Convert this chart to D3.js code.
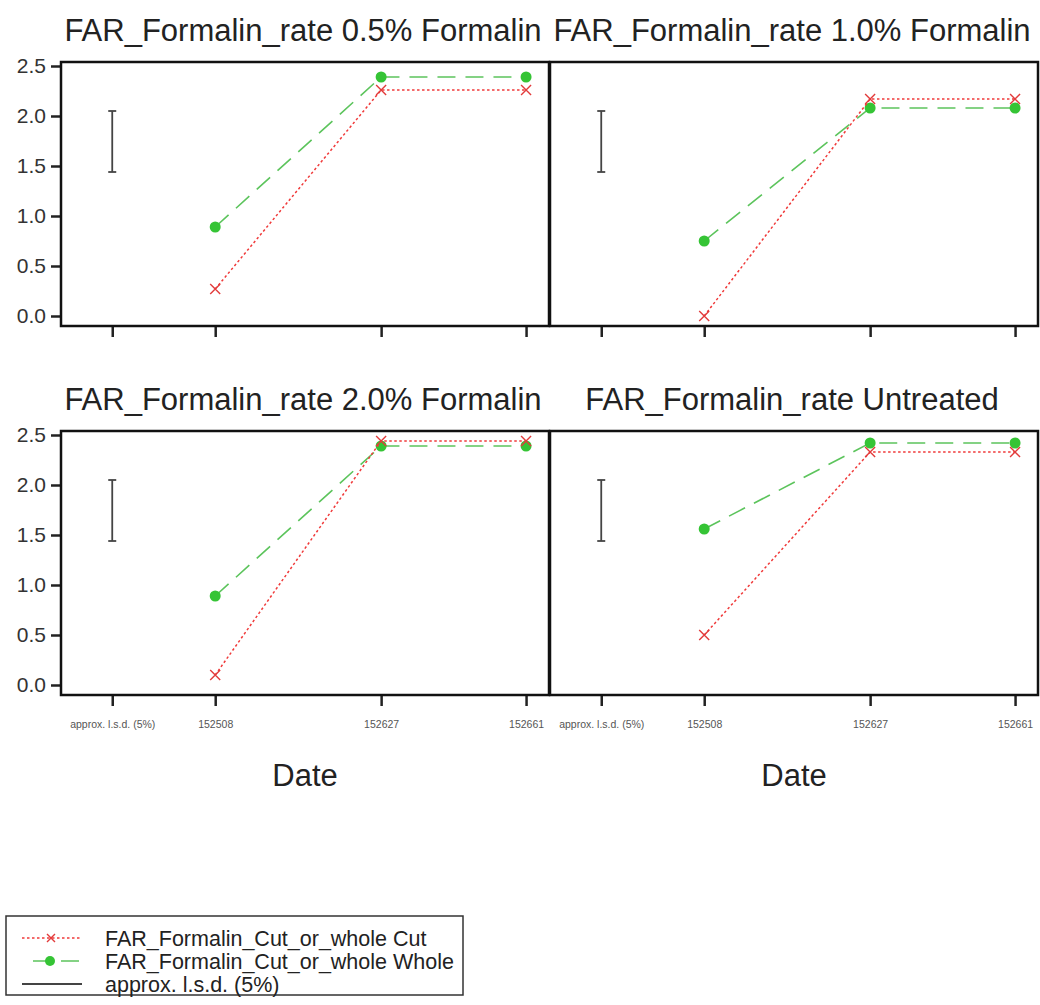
<!DOCTYPE html>
<html>
<head>
<meta charset="utf-8">
<script src="https://cdn.jsdelivr.net/npm/d3@7/dist/d3.min.js"></script>
<style>
  body { margin: 0; background: #fff; }
  svg { display: block; font-family: "Liberation Sans", Arial, sans-serif; }
</style>
</head>
<body>
<svg id="chart" width="1040" height="1005"></svg>
<script>
// panel titles, in reading order
var panelTitles = [
  "FAR_Formalin_rate 0.5% Formalin",
  "FAR_Formalin_rate 1.0% Formalin",
  "FAR_Formalin_rate 2.0% Formalin",
  "FAR_Formalin_rate Untreated"
];
// x categories (first one is the lsd bar slot) and their axis values
var xLabels = ["approx. l.s.d. (5%)", "152508", "152627", "152661"];
var xValues = [1.05, 3.16, 6.56, 9.53];
// series values per panel, for the three dates
var cutValues = [
  [0.27, 2.26, 2.26],
  [0.00, 2.17, 2.17],
  [0.10, 2.44, 2.44],
  [0.50, 2.33, 2.33]
];
var wholeValues = [
  [0.89, 2.39, 2.39],
  [0.75, 2.08, 2.08],
  [0.89, 2.39, 2.39],
  [1.56, 2.42, 2.42]
];
var lsdCentre = 1.745, lsdValue = 0.61;
var yTicks = [0, 0.5, 1.0, 1.5, 2.0, 2.5];
var legendLabels = [
  "FAR_Formalin_Cut_or_whole Cut",
  "FAR_Formalin_Cut_or_whole Whole",
  "approx. l.s.d. (5%)"
];

var svg = d3.select("#chart");
var colLeft = [61, 550], panelW = 488;
var rowTop = [62, 431], panelH = 264;
var red = "#f03a3a", green = "#35c435";

var x = d3.scaleLinear().domain([0, 10]).range([0, panelW]);
var y = d3.scaleLinear().domain([-0.1, 2.54]).range([panelH, 0]);

var line = d3.line()
  .x(function(d, i) { return x(xValues[i + 1]); })
  .y(function(d) { return y(d); });

panelTitles.forEach(function(title, p) {
  var col = p % 2, row = Math.floor(p / 2);
  var g = svg.append("g")
    .attr("transform", "translate(" + colLeft[col] + "," + rowTop[row] + ")");

  g.append("text")
    .attr("x", panelW / 2 - 2)
    .attr("y", -21)
    .attr("text-anchor", "middle")
    .attr("font-size", 31)
    .attr("fill", "#222")
    .text(title);

  // y axis only on left column
  if (col === 0) {
    var ya = g.append("g")
      .call(d3.axisLeft(y).tickValues(yTicks).tickSize(10).tickPadding(5)
        .tickFormat(d3.format(".1f")));
    ya.select(".domain").remove();
    ya.selectAll("line").attr("stroke", "#222").attr("stroke-width", 2.5);
    ya.selectAll("text").attr("font-size", 21).attr("fill", "#333")
      .attr("font-family", "Liberation Sans, Arial, sans-serif");
  }

  var xa = g.append("g")
    .attr("transform", "translate(0," + panelH + ")")
    .call(d3.axisBottom(x).tickValues(xValues).tickSize(11).tickPadding(15)
      .tickFormat(function(d, i) { return row === 1 ? xLabels[i] : ""; }));
  xa.select(".domain").remove();
  xa.selectAll("line").attr("stroke", "#222").attr("stroke-width", 2.5);
  xa.selectAll("text").attr("font-size", 10.5).attr("fill", "#555")
    .attr("font-family", "Liberation Sans, Arial, sans-serif");

  if (row === 1) {
    g.append("text")
      .attr("x", panelW / 2)
      .attr("y", panelH + 91)
      .attr("text-anchor", "middle")
      .attr("font-size", 31)
      .attr("fill", "#222")
      .text("Date");
  }

  // lsd bar
  var lx = x(xValues[0]);
  var lsd = g.append("g").attr("stroke", "#444").attr("stroke-width", 1.8);
  lsd.append("line").attr("x1", lx).attr("x2", lx)
    .attr("y1", y(lsdCentre - lsdValue / 2)).attr("y2", y(lsdCentre + lsdValue / 2));
  [lsdCentre - lsdValue / 2, lsdCentre + lsdValue / 2].forEach(function(v) {
    lsd.append("line").attr("x1", lx - 4).attr("x2", lx + 4)
      .attr("y1", y(v)).attr("y2", y(v));
  });

  // whole series
  g.append("path")
    .attr("d", line(wholeValues[p]))
    .attr("fill", "none")
    .attr("stroke", "#5cc45c")
    .attr("stroke-width", 1.6)
    .attr("stroke-dasharray", "18,10");
  g.selectAll("circle.whole")
    .data(wholeValues[p])
    .enter().append("circle")
    .attr("class", "whole")
    .attr("cx", function(d, i) { return x(xValues[i + 1]); })
    .attr("cy", function(d) { return y(d); })
    .attr("r", 5.5)
    .attr("fill", green);

  // cut series
  g.append("path")
    .attr("d", line(cutValues[p]))
    .attr("fill", "none")
    .attr("stroke", red)
    .attr("stroke-width", 1.5)
    .attr("stroke-dasharray", "2.5,2.5");
  g.selectAll("path.cut")
    .data(cutValues[p])
    .enter().append("path")
    .attr("class", "cut")
    .attr("transform", function(d, i) {
      return "translate(" + x(xValues[i + 1]) + "," + y(d) + ")";
    })
    .attr("d", "M-5,-5L5,5M-5,5L5,-5")
    .attr("stroke", "#e23b3b")
    .attr("stroke-width", 1.4);

  g.append("rect")
    .attr("width", panelW).attr("height", panelH)
    .attr("fill", "none").attr("stroke", "#111").attr("stroke-width", 2.5);
});

// legend
var lg = svg.append("g").attr("transform", "translate(6,916)");
lg.append("rect").attr("width", 457).attr("height", 79)
  .attr("fill", "#fff").attr("stroke", "#333").attr("stroke-width", 1.5);
legendLabels.forEach(function(label, i) {
  var ly = 22 + i * 23;
  var row = lg.append("g");
  if (i === 0) {
    row.append("line").attr("x1", 16).attr("x2", 76).attr("y1", ly).attr("y2", ly)
      .attr("stroke", red).attr("stroke-width", 1.5).attr("stroke-dasharray", "2.5,2.5");
    row.append("path").attr("d", "M-4,-4L4,4M-4,4L4,-4")
      .attr("transform", "translate(45," + ly + ")")
      .attr("stroke", "#e23b3b").attr("stroke-width", 1.4);
  } else if (i === 1) {
    row.append("line").attr("x1", 27).attr("x2", 76).attr("y1", ly).attr("y2", ly)
      .attr("stroke", "#5cc45c").attr("stroke-width", 1.6).attr("stroke-dasharray", "18,10");
    row.append("circle").attr("cx", 44).attr("cy", ly).attr("r", 5).attr("fill", green);
  } else {
    row.append("line").attr("x1", 16).attr("x2", 76).attr("y1", ly).attr("y2", ly)
      .attr("stroke", "#444").attr("stroke-width", 1.8);
  }
  row.append("text").attr("x", 99).attr("y", ly + 7.5)
    .attr("font-size", 21.5).attr("fill", "#222").text(label);
});
</script>
</body>
</html>
